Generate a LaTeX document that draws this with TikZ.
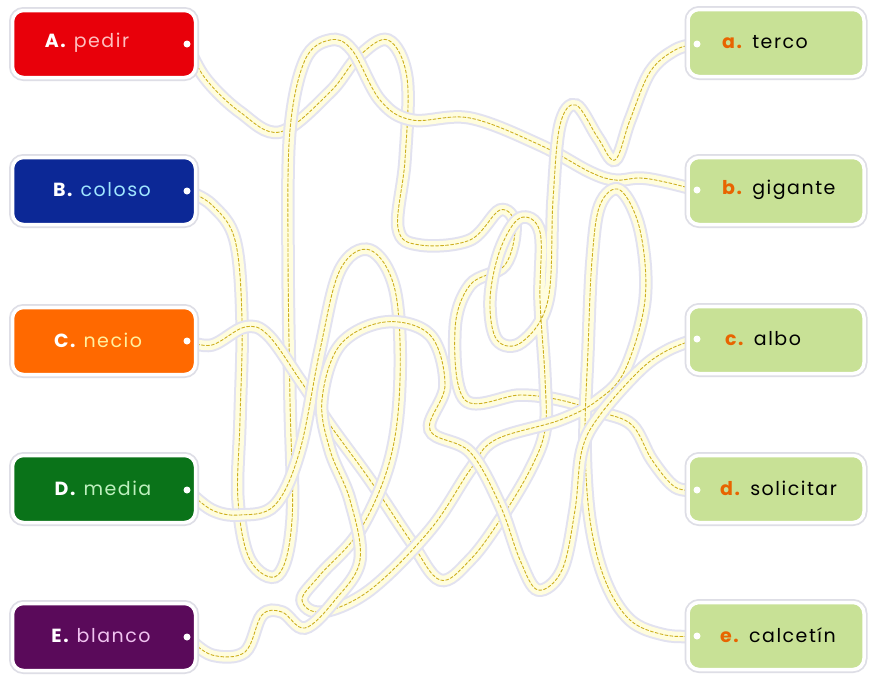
\documentclass[tikz,border=0pt]{standalone}
\usepackage{fontspec}
\setmainfont{Poppins}
\definecolor{cA}{RGB}{232,0,10}
\definecolor{cB}{RGB}{12,40,150}
\definecolor{cC}{RGB}{255,105,0}
\definecolor{cD}{RGB}{10,115,25}
\definecolor{cE}{RGB}{90,10,90}
\definecolor{cR}{RGB}{200,225,150}
\definecolor{wA}{RGB}{255,190,190}
\definecolor{wB}{RGB}{160,230,255}
\definecolor{wC}{RGB}{255,240,160}
\definecolor{wD}{RGB}{190,240,190}
\definecolor{wE}{RGB}{240,195,240}
\definecolor{ropefill}{RGB}{255,253,222}
\definecolor{ropeedge}{RGB}{226,226,240}
\definecolor{ropedash}{RGB}{205,175,30}
\definecolor{boxedge}{RGB}{222,222,230}
\definecolor{letR}{RGB}{232,100,0}
\begin{document}
\begin{tikzpicture}[x=1pt,y=-1pt,
  rope/.style={draw=ropefill, line width=9.5pt, line cap=round, line join=round,
    preaction={draw=ropeedge, line width=13.5pt},
    postaction={draw=ropedash, line width=0.9pt, dash pattern=on 3pt off 2pt}},
  boxbase/.style={rectangle, rounded corners=11pt, minimum height=67pt, draw=white, line width=3.5pt,
    preaction={draw=boxedge, line width=7pt}},
  lbox/.style={boxbase, minimum width=183pt},
  rbox/.style={boxbase, minimum width=176pt, fill=cR},
  dotc/.style={circle, fill=white, inner sep=0pt, minimum size=7pt},
  ltxt/.style={text=white, font=\fontsize{19}{22}\selectfont\addfontfeatures{LetterSpace=8}, inner sep=0pt},
  rtxt/.style={text=black, font=\fontsize{19}{22}\selectfont\addfontfeatures{LetterSpace=8}, inner sep=0pt, anchor=west}
]
\useasboundingbox[fill=white] (0,0) rectangle (870,675);

% dot positions
\coordinate (pA) at (187,44);
\coordinate (pB) at (187,191);
\coordinate (pC) at (187,341);
\coordinate (pD) at (187,490);
\coordinate (pE) at (187,637);
\coordinate (pa) at (697,44);
\coordinate (pb) at (697,190);
\coordinate (pc) at (697,339);
\coordinate (pd) at (697,490);
\coordinate (pe) at (697,636);

% ropes
\draw[rope] plot[smooth, tension=0.6] coordinates {(pA) (205,78) (240,112) (280,132) (330,92) (358,57) (388,40) (407,78) (405,160) (398,228) (420,245) (470,240) (500,210) (515,225) (505,265) (470,285) (455,330) (465,400) (520,395) (560,400) (600,412) (632,425) (652,460) (675,487) (pd)};

\draw[rope] plot[smooth, tension=0.6] coordinates {(pB) (212,205) (235,240) (242,320) (240,420) (238,500) (250,560) (278,575) (292,520) (290,400) (288,250) (290,130) (305,60) (330,40) (352,50) (380,100) (412,120) (470,118) (540,145) (590,172) (615,180) (640,178) (665,182) (pb)};

\draw[rope] plot[smooth, tension=0.6] coordinates {(pC) (212,345) (245,327) (268,335) (300,380) (330,425) (370,480) (410,540) (440,580) (470,560) (500,520) (530,470) (545,430) (545,378) (540,300) (540,232) (520,218) (500,250) (490,300) (497,340) (522,342) (548,300) (553,200) (560,125) (576,105) (598,138) (615,160) (630,120) (650,72) (675,50) (pa)};

\draw[rope] plot[smooth, tension=0.6] coordinates {(pD) (212,510) (240,515) (275,505) (300,450) (320,350) (340,270) (370,250) (395,290) (400,380) (390,460) (360,530) (320,575) (302,600) (322,612) (370,590) (430,530) (470,470) (495,440) (560,420) (598,400) (625,370) (645,300) (640,230) (620,190) (600,205) (592,260) (588,350) (585,440) (590,520) (605,580) (630,620) (665,635) (pe)};

\draw[rope] plot[smooth, tension=0.6] coordinates {(pE) (212,655) (245,652) (262,615) (282,612) (305,628) (335,600) (360,560) (350,500) (330,450) (322,400) (340,345) (385,322) (430,335) (445,385) (430,430) (470,452) (500,505) (520,560) (538,590) (562,570) (575,510) (582,450) (600,415) (640,370) (668,350) (pc)};

% left boxes
\node[lbox, fill=cA] (A) at (104,44) {};
\node[lbox, fill=cB] (B) at (104,191) {};
\node[lbox, fill=cC] (C) at (104,341) {};
\node[lbox, fill=cD] (D) at (104,489) {};
\node[lbox, fill=cE] (E) at (104,637) {};
% right boxes
\node[rbox] (a) at (776,43) {};
\node[rbox] (b) at (776,191) {};
\node[rbox] (c) at (776,340) {};
\node[rbox] (d) at (776,489) {};
\node[rbox] (e) at (776,636) {};

% dots
\foreach \n in {A,B,C,D,E,a,b,c,d,e} {\node[dotc] (d\n) at (p\n) {};}

% texts
\node[ltxt] (tA) at (87,43) {\textbf{A.} \textcolor{wA}{pedir}};
\node[ltxt] (tB) at (102,190) {\textbf{B.} \textcolor{wB}{coloso}};
\node[ltxt] (tC) at (98,340) {\textbf{C.} \textcolor{wC}{necio}};
\node[ltxt] (tD) at (103,488) {\textbf{D.} \textcolor{wD}{media}};
\node[ltxt] (tE) at (101,636) {\textbf{E.} \textcolor{wE}{blanco}};
\node[rtxt] (ta) at (722,42) {\textcolor{letR}{\textbf{a.}} terco};
\node[rtxt] (tb) at (722,190) {\textcolor{letR}{\textbf{b.}} gigante};
\node[rtxt] (tc) at (725,339) {\textcolor{letR}{\textbf{c.}} albo};
\node[rtxt] (td) at (720,488) {\textcolor{letR}{\textbf{d.}} solicitar};
\node[rtxt] (te) at (720,635) {\textcolor{letR}{\textbf{e.}} calcetín};
\end{tikzpicture}
\end{document}
